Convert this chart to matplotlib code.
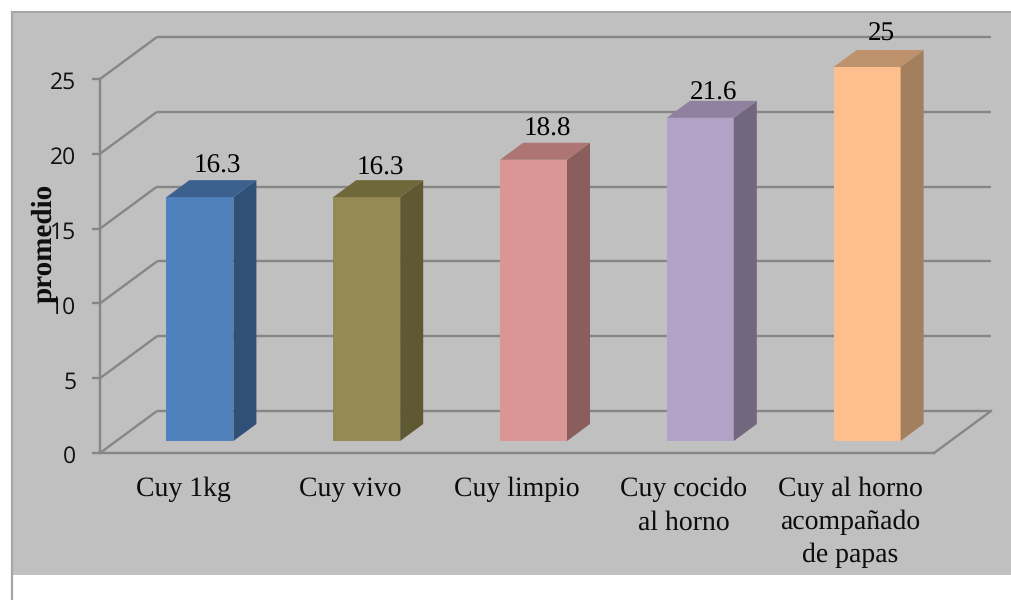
import matplotlib
matplotlib.use("Agg")
import matplotlib.pyplot as plt
from matplotlib.patches import Polygon, Rectangle
from matplotlib.lines import Line2D
from matplotlib.transforms import ScaledTranslation

plt.rcParams["text.hinting"] = "no_hinting"

categories = ["Cuy 1kg", "Cuy vivo", "Cuy limpio", "Cuy cocido\nal horno",
              "Cuy al horno\nacompañado\nde papas"]
values = [16.3, 16.3, 18.8, 21.6, 25]
value_labels = ["16.3", "16.3", "18.8", "21.6", "25"]
y_ticks = [0, 5, 10, 15, 20, 25]
y_label = "promedio"

front_colors = ["#4F81BD", "#948A54", "#D99694", "#B3A2C7", "#FCBF8D"]
side_colors = ["#2F5077", "#5E5833", "#8A5E5D", "#71677E", "#A37F5E"]
top_colors = ["#3C618F", "#6F6839", "#AD7674", "#8F819F", "#BF926E"]
label_offsets = [(17.5, 14.5), (13.5, 12), (14, 14), (13.5, 8), (14.5, 16)]

W, H = 1011, 600
PX = 72 / 100
LW = 1.7
fig = plt.figure(figsize=(W / 100, H / 100), dpi=100, facecolor="white")

def fx(p): return p / W
def fy(p): return 1 - p / H

# panel and outer border
fig.add_artist(Rectangle((fx(13), fy(575)), 1 - fx(13), fy(13) - fy(575),
                         transform=fig.transFigure, fc="#C0C0C0", ec="none", zorder=-5))
fig.add_artist(Line2D([fx(12), fx(12)], [0, fy(12)], color="#A6A6A6", lw=1.6, zorder=-4))
fig.add_artist(Line2D([fx(12), 1], [fy(12), fy(12)], color="#A6A6A6", lw=1.4, zorder=-4))

# axes = front plane of the 3-D box
ax = fig.add_axes([fx(100), fy(453), fx(934) - fx(100), fy(79) - fy(453)])
ax.set_xlim(0, len(categories))
ax.set_ylim(0, 25)
ax.patch.set_alpha(0)
for s in ax.spines.values():
    s.set_visible(False)

GRID = "#868686"
def shifted(dx, dy):
    return ax.transData + ScaledTranslation(dx / 100, dy / 100, fig.dpi_scale_trans)

wall = shifted(57, 42)
n = len(categories)
to_wall_x = 57 / ((934 - 100) / n)
to_wall_y = 42 / ((453 - 79) / 25)
for v in y_ticks:
    # side wall diagonal
    ax.plot([0, to_wall_x], [v, v + to_wall_y], color=GRID, lw=LW, clip_on=False, zorder=1,
            solid_capstyle="butt")
    # back wall line
    ax.plot([0, n], [v, v], color=GRID, lw=LW, clip_on=False, zorder=1, transform=wall,
            solid_capstyle="butt")
    # tick
    ax.plot([-8 / ((934 - 100) / n), 0], [v, v], color=GRID, lw=LW, clip_on=False, zorder=1,
            solid_capstyle="butt")
# axes lines and floor
ax.plot([0, 0], [0, 25], color=GRID, lw=LW, clip_on=False, zorder=1)
ax.plot([0, n], [0, 0], color=GRID, lw=LW, clip_on=False, zorder=1)
ax.plot([n, n + to_wall_x], [0, to_wall_y], color=GRID, lw=LW, clip_on=False, zorder=1)

# bars
bw = 67 / ((934 - 100) / n)
bar_tf = shifted(16.5, 12)
dx = 23 / ((934 - 100) / n)
dy = 17 / ((453 - 79) / 25)
for i, v in enumerate(values):
    c = i + 0.5
    l, r = c - bw / 2, c + bw / 2
    ax.bar(c, v, width=bw, color=front_colors[i], transform=bar_tf, zorder=3,
           clip_on=False, edgecolor="none")
    ax.add_patch(Polygon([(r, 0), (r + dx, dy), (r + dx, v + dy), (r, v)], closed=True,
                         fc=side_colors[i], ec="none", transform=bar_tf, zorder=3, clip_on=False))
    ax.add_patch(Polygon([(l, v), (l + dx, v + dy), (r + dx, v + dy), (r, v)], closed=True,
                         fc=top_colors[i], ec="none", transform=bar_tf, zorder=3, clip_on=False))
    ox, oy = label_offsets[i]
    ax.annotate(value_labels[i], xy=(c, v + dy), xycoords=bar_tf,
                xytext=(ox * PX, oy * PX), textcoords="offset points",
                ha="center", va="center", family="Liberation Serif", fontsize=19.5,
                color="black", zorder=5, annotation_clip=False)
    # category label
    ax.annotate(categories[i], xy=(c, 0), xycoords="data",
                xytext=(0, -24 * PX), textcoords="offset points",
                ha="center", va="top", family="Liberation Serif", fontsize=20,
                linespacing=1.38, color="#0d0d0d", annotation_clip=False)

ax.set_xticks([])
ax.set_yticks(y_ticks)
ax.set_yticklabels([str(t) for t in y_ticks], family="Open Sans", fontsize=16.5, color="#111111")
ax.tick_params(axis="y", length=0, pad=17)
down = ScaledTranslation(0, -1.5 / 100, fig.dpi_scale_trans)
for lab in ax.get_yticklabels():
    lab.set_transform(lab.get_transform() + down)
fig.text(fx(44), fy(243), y_label, rotation=90, ha="center", va="center",
         family="Liberation Serif", fontweight="bold", fontsize=21, color="#0d0d0d")

fig.savefig("out.png", dpi=100)
